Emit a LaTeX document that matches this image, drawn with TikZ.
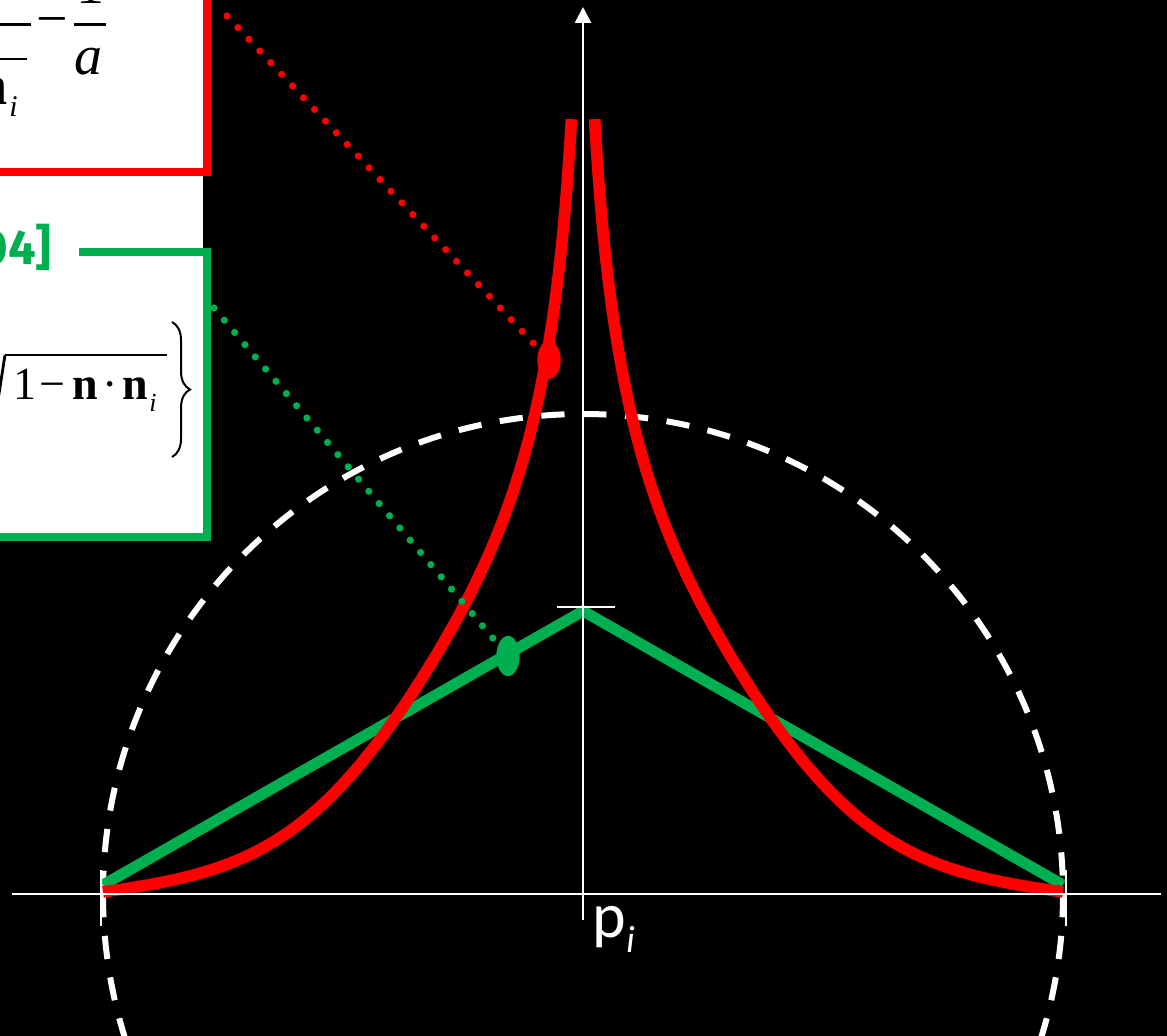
\documentclass[tikz,border=0pt]{standalone}
\usepackage{fontspec}
\setmainfont{Liberation Serif}
\newfontfamily\calib{Carlito}
\newfontfamily\titlefont{Fira Sans}
\usetikzlibrary{arrows.meta,shapes.geometric,decorations.pathreplacing}
\definecolor{myred}{HTML}{FF0000}
\definecolor{mygreen}{HTML}{00B050}
\begin{document}
\begin{tikzpicture}[x=0.5pt,y=-0.5pt,
  redcurve/.style={draw=myred,line width=5.8pt},
  greenline/.style={draw=mygreen,line width=5.5pt,line join=miter},
  dashcircle/.style={draw=white,line width=3pt,dash pattern=on 11.65pt off 9.3pt},
  axisline/.style={draw=white,line width=1pt},
  tickline/.style={draw=white,line width=1pt},
  dotline/.style={line width=3.6pt,line cap=round,dash pattern=on 0pt off 8pt},
  marker/.style={ellipse,inner sep=0pt,minimum width=11.5pt,minimum height=19pt},
  framered/.style={draw=myred,line width=4pt,line join=miter},
  framegreen/.style={draw=mygreen,line width=4pt,line join=miter},
  rule/.style={draw=black,line width=1.35pt},
  bigf/.style={inner sep=0pt,font=\fontsize{28}{33}\selectfont},
  midf/.style={inner sep=0pt,font=\fontsize{23}{28}\selectfont},
]
\useasboundingbox (0,0) rectangle (1167,1036);
\clip (0,0) rectangle (1167,1036);
\fill[black] (0,0) rectangle (1167,1036);

% dashed circle
\draw[dashcircle] (103,894) arc[start angle=180,end angle=360,radius=480];
\draw[dashcircle] (103,894) arc[start angle=180,end angle=90,radius=480];
\draw[dashcircle] (1063,894) arc[start angle=0,end angle=90,radius=480];

% green tent
\coordinate (gl) at (103,885);
\coordinate (gp) at (583,611);
\coordinate (gr) at (1063,885);
\draw[greenline] (gl) -- (gp) -- (gr);

% red curves
\draw[redcurve] plot[domain=0:3.717,samples=160,variable=\t]
  ({583-480*exp(-\t)},{892-478*\t*(0.435-0.29*exp(-(\t/0.7)*(\t/0.7)))});
\draw[redcurve] plot[domain=0:3.717,samples=160,variable=\t]
  ({583+480*exp(-\t)},{892-478*\t*(0.435-0.29*exp(-(\t/0.7)*(\t/0.7)))});

% axes
\coordinate (xl) at (12,894);
\coordinate (xr) at (1161,894);
\coordinate (yb) at (583,920);
\coordinate (yt) at (583,7);
\draw[axisline] (xl) -- (xr);
\draw[axisline,line width=1.25pt,-{Triangle[width=8pt,length=8pt]}] (yb) -- (yt);
\draw[tickline] (557,607) -- (615,607);
\draw[tickline] (101,870) -- (101,926);
\draw[tickline] (1066,870) -- (1066,926);

\node[anchor=base west,inner sep=0pt,text=white,font=\calib\fontsize{32}{38}\selectfont] (plabel) at (592,937) {p\raisebox{-7.5pt}{\fontsize{19}{23}\selectfont\itshape i}};

% boxes
\fill[white] (-10,-10) rectangle (203,537.5);
\draw[framered] (207,-10) -- (207,172) -- (-10,172);
\draw[framegreen] (79,252) -- (207,252) -- (207,537.5) -- (-10,537.5);

% red formula fragments
\draw[rule] (-10,24.3) -- (31,24.3);
\draw[rule] (74,24.3) -- (106,24.3);
\draw[rule] (-10,59) -- (27,59);
\node[bigf,anchor=base] (rone) at (90,4) {1};
\node[bigf,anchor=base] (rminus) at (52.5,38) {−};
\node[bigf,anchor=base] (ra) at (88,75) {\textit{a}};
\node[bigf,anchor=base east] (rn) at (8,105) {\textbf{n}};
\node[inner sep=0pt,font=\fontsize{15}{18}\selectfont,anchor=base west] (ri) at (9,117) {\textit{i}};

% green title and formula fragments
\node[anchor=base east,inner sep=0pt,text=mygreen,font=\titlefont\bfseries\fontsize{24.5}{29}\selectfont] (gtitle) at (52,265) {04]};
\draw[black,line width=1.4pt] (-4,413) -- (5,355);
\draw[rule] (5,355) -- (167,355);
\node[midf,anchor=base] (gone) at (24.5,400) {1};
\node[midf,anchor=base] (gminus) at (52.5,400) {−};
\node[midf,anchor=base] (gn1) at (85,400) {\textbf{n}};
\node[midf,anchor=base] (gdot) at (110,400) {·};
\node[midf,anchor=base] (gn2) at (135,400) {\textbf{n}};
\node[inner sep=0pt,font=\fontsize{13}{16}\selectfont,anchor=base west] (gi) at (149,412) {\textit{i}};
\draw[black,line width=1pt,decorate,decoration={brace,amplitude=9pt}] (172,322) -- (172,457);

% dotted connectors and markers
\coordinate (rs) at (227,16);
\coordinate (gs) at (214,308);
\node[marker,fill=myred] (rdot) at (549,360) {};
\node[marker,fill=mygreen,minimum height=20pt] (gdotm) at (508,656) {};
\draw[dotline,myred] (rs) -- (rdot.center);
\draw[dotline,mygreen] (gs) -- (gdotm.center);
\node[marker,fill=myred] at (rdot.center) {};
\node[marker,fill=mygreen,minimum height=20pt] at (gdotm.center) {};
\end{tikzpicture}
\end{document}
